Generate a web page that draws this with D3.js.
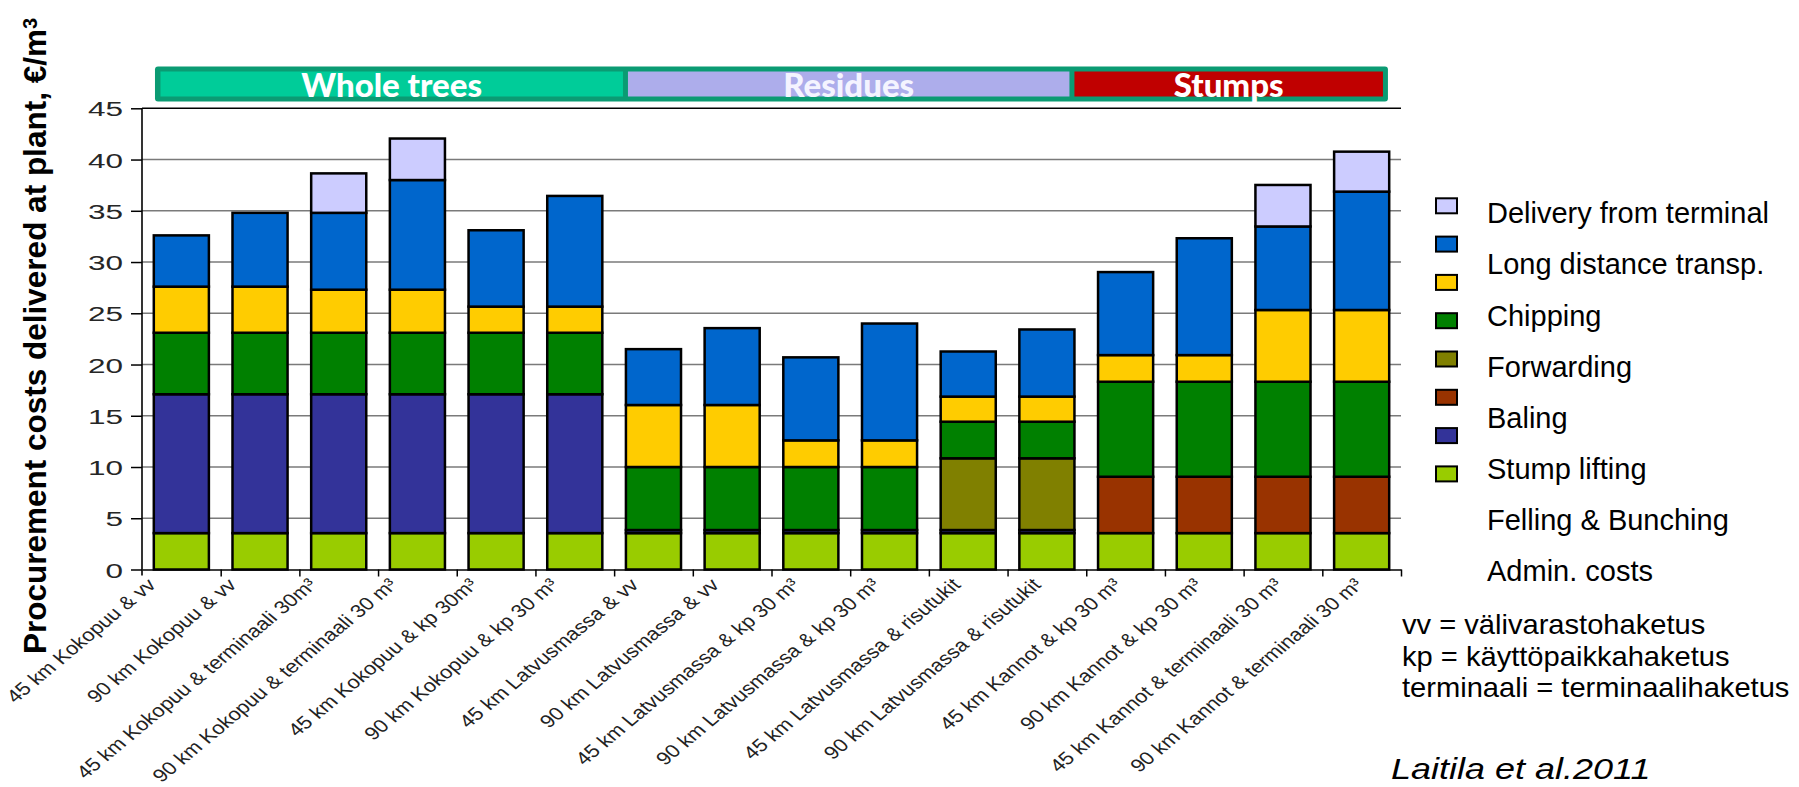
<!DOCTYPE html>
<html>
<head>
<meta charset="utf-8">
<script src="https://cdn.jsdelivr.net/npm/d3@7"></script>
<style>
  html, body { margin: 0; padding: 0; background: #ffffff; }
  svg { display: block; }
  text { font-family: "Liberation Sans", Arial, sans-serif; }
</style>
</head>
<body>
<svg id="chart" width="1799" height="787"></svg>
<script>
// ---- data -------------------------------------------------------------
const categories = [
  "45 km Kokopuu & vv",
  "90 km Kokopuu & vv",
  "45 km Kokopuu & terminaali 30m³",
  "90 km Kokopuu & terminaali 30 m³",
  "45 km Kokopuu  & kp 30m³",
  "90 km Kokopuu & kp 30 m³",
  "45 km Latvusmassa & vv",
  "90 km Latvusmassa & vv",
  "45 km Latvusmassa & kp 30 m³",
  "90 km Latvusmassa & kp 30 m³",
  "45 km Latvusmassa & risutukit",
  "90 km Latvusmassa & risutukit",
  "45 km Kannot & kp 30 m³",
  "90 km Kannot & kp 30 m³",
  "45 km Kannot & terminaali 30 m³",
  "90 km Kannot & terminaali 30 m³"
];

// cost components, €/m³ (stacked bottom to top)
const adminCosts      = [3.55, 3.55, 3.55, 3.55, 3.55, 3.55, 3.55, 3.55, 3.55, 3.55, 3.55, 3.55, 3.55, 3.55, 3.55, 3.55];
const fellingBunching = [13.55, 13.55, 13.55, 13.55, 13.55, 13.55, 0.3, 0.3, 0.3, 0.3, 0.3, 0.3, 0, 0, 0, 0];
const stumpLifting    = [0, 0, 0, 0, 0, 0, 0, 0, 0, 0, 0, 0, 5.5, 5.5, 5.5, 5.5];
const baling          = [0, 0, 0, 0, 0, 0, 0, 0, 0, 0, 7.0, 7.0, 0, 0, 0, 0];
const forwarding      = [6.0, 6.0, 6.0, 6.0, 6.0, 6.0, 6.15, 6.15, 6.15, 6.15, 3.57, 3.57, 9.27, 9.27, 9.27, 9.27];
const chipping        = [4.5, 4.5, 4.2, 4.2, 2.55, 2.55, 6.05, 6.05, 2.6, 2.6, 2.45, 2.45, 2.6, 2.6, 7.0, 7.0];
const longDistance    = [5.0, 7.2, 7.5, 10.7, 7.45, 10.8, 5.45, 7.5, 8.1, 11.4, 4.4, 6.55, 8.1, 11.4, 8.15, 11.55];
const delivery        = [0, 0, 3.85, 4.05, 0, 0, 0, 0, 0, 0, 0, 0, 0, 0, 4.05, 3.9];

const seriesNames  = ["Admin. costs", "Felling & Bunching", "Stump lifting", "Baling",
                      "Forwarding", "Chipping", "Long distance transp.", "Delivery from terminal"];
const seriesValues = [adminCosts, fellingBunching, stumpLifting, baling,
                      forwarding, chipping, longDistance, delivery];
const seriesColors = ["#99cc00", "#333399", "#993300", "#808000",
                      "#008000", "#ffcc00", "#0066cc", "#ccccff"];

const yTicks = [0, 5, 10, 15, 20, 25, 30, 35, 40, 45];

// raw-material groups shown in the header strip (edges in category units)
const groupNames  = ["Whole trees", "Residues", "Stumps"];
const groupFills  = ["#00cc99", "#adadeb", "#c00000"];
const groupEdges  = [0.165, 6.144, 11.818, 15.834];

const yTitle = "Procurement costs delivered at plant, €/m";
const notes  = ["vv = välivarastohaketus", "kp = käyttöpaikkahaketus", "terminaali = terminaalihaketus"];
const source = "Laitila et al.2011";

// ---- table for the stack ---------------------------------------------
const table = categories.map((c, i) => {
  const row = { category: c };
  seriesNames.forEach((s, k) => { row[s] = seriesValues[k][i]; });
  return row;
});
const stacked = d3.stack().keys(seriesNames)(table);
const color = d3.scaleOrdinal().domain(seriesNames).range(seriesColors);

// ---- scales ------------------------------------------------------------
const plotLeft = 142, plotRight = 1401, plotTop = 108.3, plotBottom = 569.5;
const x = d3.scaleBand().domain(categories).range([plotLeft, plotRight])
  .paddingInner(0.3).paddingOuter(0.15);
const xUnits = d3.scaleLinear().domain([0, categories.length]).range([plotLeft, plotRight]);
const y = d3.scaleLinear().domain([0, 45]).range([plotBottom, plotTop]);
// anchor points (text end) of the slanted category labels
const xLabel = d3.scalePoint().domain(categories).range([157, 1364]);

const svg = d3.select("#chart");
svg.append("rect").attr("width", 1799).attr("height", 787).attr("fill", "#ffffff");

// ---- gridlines ---------------------------------------------------------
svg.append("g").selectAll("line")
  .data(yTicks.filter(t => t > 0))
  .join("line")
  .attr("x1", plotLeft).attr("x2", plotRight)
  .attr("y1", d => y(d)).attr("y2", d => y(d))
  .attr("stroke", d => d === 45 ? "#000000" : "#7a7a7a")
  .attr("stroke-width", d => d === 45 ? 1.6 : 1.5);

// ---- y axis ------------------------------------------------------------
const yAxis = svg.append("g")
  .attr("transform", `translate(${plotLeft},0)`)
  .call(d3.axisLeft(y).tickValues(yTicks).tickSize(11).tickPadding(8).tickSizeOuter(0));
yAxis.select(".domain").remove();
yAxis.selectAll(".tick line").attr("stroke", "#000").attr("stroke-width", 1.5);
yAxis.selectAll(".tick text")
  .attr("x", 0)
  .attr("transform", "translate(-19,0) scale(1.5,1)")
  .attr("dy", "0.36em")
  .attr("fill", "#262626")
  .style("font-size", "21px")
  .style("font-family", "'Liberation Sans', Arial, sans-serif");
svg.append("line")
  .attr("x1", plotLeft).attr("x2", plotLeft)
  .attr("y1", plotTop).attr("y2", plotBottom + 6)
  .attr("stroke", "#000").attr("stroke-width", 1.6);

// ---- bars --------------------------------------------------------------
svg.append("g").selectAll("g")
  .data(stacked)
  .join("g")
  .attr("fill", d => color(d.key))
  .selectAll("rect")
  .data(d => d.filter(p => p[1] - p[0] > 0))
  .join("rect")
  .attr("x", p => x(p.data.category))
  .attr("width", x.bandwidth())
  .attr("y", p => y(p[1]))
  .attr("height", p => y(p[0]) - y(p[1]))
  .attr("stroke", "#000")
  .attr("stroke-width", 2.5);

// ---- x axis ------------------------------------------------------------
const xAxis = svg.append("g")
  .attr("transform", `translate(0,${plotBottom})`)
  .call(d3.axisBottom(xUnits).tickValues(d3.range(1, categories.length + 1))
        .tickSize(7).tickSizeOuter(0).tickFormat(""));
xAxis.select(".domain").attr("stroke", "#000").attr("stroke-width", 1.6);
xAxis.selectAll(".tick line").attr("stroke", "#000").attr("stroke-width", 1.5);

svg.append("g").selectAll("text")
  .data(categories)
  .join("text")
  .attr("transform", c => `translate(${xLabel(c)},586) scale(1.2,1) rotate(-45)`)
  .attr("text-anchor", "end")
  .attr("fill", "#222")
  .style("font-size", "18.2px")
  .text(c => c);

// ---- y title -----------------------------------------------------------
const yt = svg.append("text")
  .attr("transform", "translate(46,336) rotate(-90)")
  .attr("text-anchor", "middle")
  .style("font-size", "31.5px")
  .style("font-weight", "bold")
  .attr("fill", "#000");
yt.append("tspan").text(yTitle);
yt.append("tspan").attr("dy", "-0.45em").style("font-size", "20px").text("3");

// ---- header strip ------------------------------------------------------
const hTop = 66.5, hBottom = 101.5, border = 5;
svg.append("rect")
  .attr("x", xUnits(groupEdges[0])).attr("y", hTop)
  .attr("width", xUnits(groupEdges[groupEdges.length - 1]) - xUnits(groupEdges[0]))
  .attr("height", hBottom - hTop)
  .attr("rx", 3)
  .attr("fill", "#0b9b73");
const groups = groupNames.map((g, i) => {
  const a = xUnits(groupEdges[i]) + (i === 0 ? border + 0.5 : 2.5);
  const b = xUnits(groupEdges[i + 1]) - (i === groupNames.length - 1 ? border : 2.5);
  return { name: g, fill: groupFills[i], a, b };
});
svg.append("g").selectAll("rect")
  .data(groups)
  .join("rect")
  .attr("x", d => d.a).attr("width", d => d.b - d.a)
  .attr("y", hTop + border).attr("height", hBottom - hTop - 2 * border)
  .attr("fill", d => d.fill);
svg.append("g").selectAll("text")
  .data(groups)
  .join("text")
  .attr("x", d => (d.a + d.b) / 2)
  .attr("y", 97)
  .attr("text-anchor", "middle")
  .attr("fill", (d, i) => i === 1 ? "#f4f4ff" : "#ffffff")
  .style("font-family", "Lato, 'Open Sans', sans-serif")
  .style("font-weight", "900")
  .style("font-size", "33px")
  .text(d => d.name);

// ---- legend (top-down order of the stack) -------------------------------
const legendKeys = seriesNames.slice().reverse();
const legend = svg.append("g");
legend.selectAll("rect")
  .data(legendKeys)
  .join("rect")
  .attr("x", 1436).attr("width", 21)
  .attr("y", (d, i) => 198.3 + i * 38.3).attr("height", 15)
  .attr("fill", d => color(d))
  .attr("stroke", "#000").attr("stroke-width", 2);
legend.selectAll("text")
  .data(legendKeys)
  .join("text")
  .attr("x", 1487)
  .attr("y", (d, i) => 223.3 + i * 51.1)
  .attr("fill", "#000")
  .style("font-size", "29px")
  .text(d => d);

// ---- notes -------------------------------------------------------------
svg.append("g").selectAll("text")
  .data(notes)
  .join("text")
  .attr("transform", (d, i) => `translate(1402,${634 + i * 31.5}) scale(1.04,1)`)
  .attr("fill", "#000")
  .style("font-size", "28px")
  .text(d => d);

svg.append("text")
  .attr("transform", "translate(1391,779) scale(1.2,1)")
  .attr("fill", "#000")
  .style("font-size", "30px")
  .style("font-style", "italic")
  .text(source);
</script>
</body>
</html>
